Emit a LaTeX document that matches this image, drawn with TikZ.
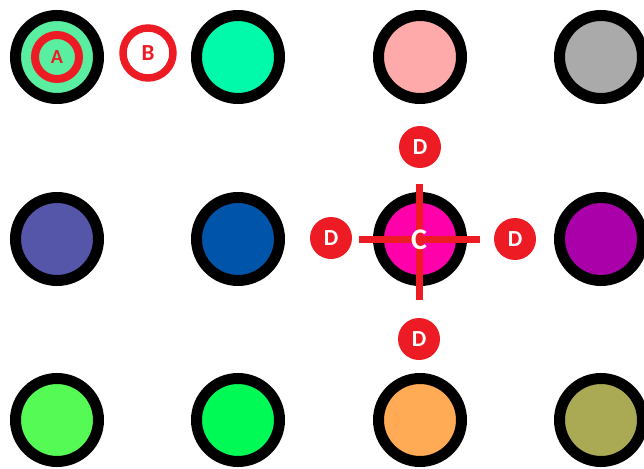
\documentclass[tikz,border=0pt]{standalone}
\usepackage{fontspec}
\setmainfont{Carlito}
\definecolor{redmark}{RGB}{237,28,36}
\definecolor{cA}{RGB}{90,238,160}
\definecolor{cB}{RGB}{0,250,170}
\definecolor{cC}{RGB}{255,170,170}
\definecolor{cD}{RGB}{170,170,170}
\definecolor{cE}{RGB}{85,85,170}
\definecolor{cF}{RGB}{0,85,170}
\definecolor{cG}{RGB}{255,0,170}
\definecolor{cH}{RGB}{170,0,170}
\definecolor{cI}{RGB}{85,250,85}
\definecolor{cJ}{RGB}{0,250,85}
\definecolor{cK}{RGB}{255,170,85}
\definecolor{cL}{RGB}{170,170,85}
\tikzset{
  dot/.style={circle,draw=black,line width=11pt,minimum size=83pt,inner sep=0pt,fill=#1},
  ringmark/.style={circle,draw=redmark,line width=#1,inner sep=0pt,text=redmark,font=\bfseries\fontsize{20}{20}\selectfont},
  dmark/.style={circle,fill=redmark,minimum size=42pt,inner sep=0pt,text=white,font=\bfseries\fontsize{23}{23}\selectfont},
  cross/.style={draw=redmark,line width=7pt},
  clabel/.style={text=white,inner sep=0pt,font=\bfseries\fontsize{30}{30}\selectfont}
}
\begin{document}
\begin{tikzpicture}[x=1pt,y=-1pt]
\useasboundingbox (0,0) rectangle (644,468);
% grid of circles
\node[dot=cA] (n11) at (57,57) {};
\node[dot=cB] (n12) at (238,57) {};
\node[dot=cC] (n13) at (420,57) {};
\node[dot=cD] (n14) at (601,57) {};
\node[dot=cE] (n21) at (57,239) {};
\node[dot=cF] (n22) at (238,239) {};
\node[dot=cG] (n23) at (420,239) {};
\node[dot=cH] (n24) at (601,239) {};
\node[dot=cI] (n31) at (57,420) {};
\node[dot=cJ] (n32) at (238,420) {};
\node[dot=cK] (n33) at (420,420) {};
\node[dot=cL] (n34) at (601,420) {};
% markers A and B
\node[ringmark=8pt,minimum size=44pt] (A) at (57,57) {A};
\node[ringmark=7.5pt,minimum size=50pt,font=\bfseries\fontsize{23}{23}\selectfont] (B) at (148,53) {B};
% crosshair
\coordinate (cl) at (359,239);
\coordinate (cr) at (480,239);
\coordinate (ct) at (419,184);
\coordinate (cb) at (419,300);
\draw[cross] (cl) -- (cr);
\draw[cross] (ct) -- (cb);
\node[clabel] (C) at (419,240) {C};
% D markers
\node[dmark] (Dt) at (420,147) {D};
\node[dmark] (Dl) at (331,238) {D};
\node[dmark] (Dr) at (515,239) {D};
\node[dmark] (Db) at (419,339) {D};
\end{tikzpicture}
\end{document}
